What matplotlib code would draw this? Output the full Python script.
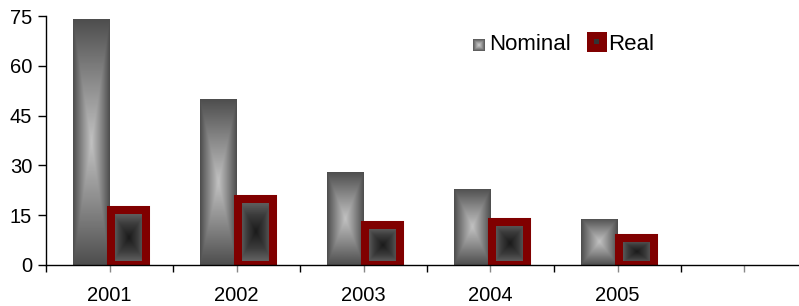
import numpy as np
import matplotlib.pyplot as plt
from matplotlib.colors import LinearSegmentedColormap
from matplotlib.patches import Rectangle

years = ['2001', '2002', '2003', '2004', '2005']
nominal = [74, 50, 28, 23, 14]
real = [16.5, 20, 12, 13, 8]

plt.rcParams['font.family'] = ['Liberation Sans', 'DejaVu Sans']

W, H = 799, 306
fig = plt.figure(figsize=(W / 100, H / 100), dpi=100)
ax = fig.add_axes([46 / W, (H - 265) / H, (W - 46) / W, (265 - 16) / H])

# rectangular "from centre" gradient: 0 in the middle, 1 at the edges
def rect_gradient(n=240, m=80):
    u = np.abs(np.linspace(-1, 1, m))[None, :]
    v = np.abs(np.linspace(-1, 1, n))[:, None]
    return np.maximum(u, v)

cmap_nom = LinearSegmentedColormap.from_list('nom', ['#c2c2c2', '#8a8a8a', '#4e4e4e'])
cmap_real = LinearSegmentedColormap.from_list('real', ['#1a1a1a', '#3c3c3c', '#6e6e6e'])
grad = rect_gradient()

x = np.arange(len(years))
nom_w, real_w = 0.29, 0.28

nom_bars = ax.bar(x - nom_w, nominal, width=nom_w, align='edge',
                  color='#555555', linewidth=0, zorder=2)
for b in nom_bars:
    x0, w, h = b.get_x(), b.get_width(), b.get_height()
    im = ax.imshow(grad, cmap=cmap_nom, vmin=0, vmax=1, aspect='auto',
                   extent=[x0, x0 + w, 0, h], zorder=2.1, interpolation='bilinear')
    im.set_clip_path(b)

real_bars = ax.bar(x + 0.01, real, width=real_w, align='edge',
                   facecolor='none', edgecolor='#800000', linewidth=5.8, zorder=3)
for b in real_bars:
    x0, w, h = b.get_x(), b.get_width(), b.get_height()
    ax.imshow(grad, cmap=cmap_real, vmin=0, vmax=1, aspect='auto',
              extent=[x0, x0 + w, 0, h], zorder=2.5, interpolation='bilinear')

ax.set_xlim(-0.5, (W - 46) / 127 - 0.5)
ax.set_ylim(0, 75)
ax.set_yticks([0, 15, 30, 45, 60, 75])

# boundaries get black ticks, category centres get labels
ax.set_xticks(np.arange(-0.5, 5.0, 1.0))
ax.set_xticklabels([])
ax.set_xticks(np.arange(0, 6), years + [''], minor=True)
ax.tick_params(axis='x', which='major', length=5, width=1, color='black')
ax.tick_params(axis='x', which='minor', length=5, width=1, color='#888888',
               labelsize=14.5, pad=10)
ax.tick_params(axis='y', length=6, width=1, labelsize=14.5, pad=4)

for s in ['top', 'right']:
    ax.spines[s].set_visible(False)
for s in ['left', 'bottom']:
    ax.spines[s].set_linewidth(1)
    ax.spines[s].set_zorder(5)

# legend drawn by hand
lg = fig.add_axes([473 / W, 1 - 51 / H, 12 / W, 12 / H])
lg.imshow(rect_gradient(20, 20), cmap=LinearSegmentedColormap.from_list(
    'lg', ['#d0d0d0', '#9a9a9a', '#5a5a5a']), vmin=0, vmax=1, aspect='auto')
lg.axis('off')
fig.text(489 / W, 1 - 45 / H, 'Nominal', fontsize=16, va='center', ha='left')

fig.patches.append(Rectangle((587 / W, 1 - 52 / H), 20 / W, 20 / H,
                             transform=fig.transFigure, facecolor='#800000',
                             edgecolor='none'))
fig.patches.append(Rectangle((594 / W, 1 - 44 / H), 5 / W, 5 / H,
                             transform=fig.transFigure, facecolor='#333333',
                             edgecolor='none'))
fig.text(608 / W, 1 - 45 / H, 'Real', fontsize=16, va='center', ha='left')

fig.savefig('out.png', dpi=100)
